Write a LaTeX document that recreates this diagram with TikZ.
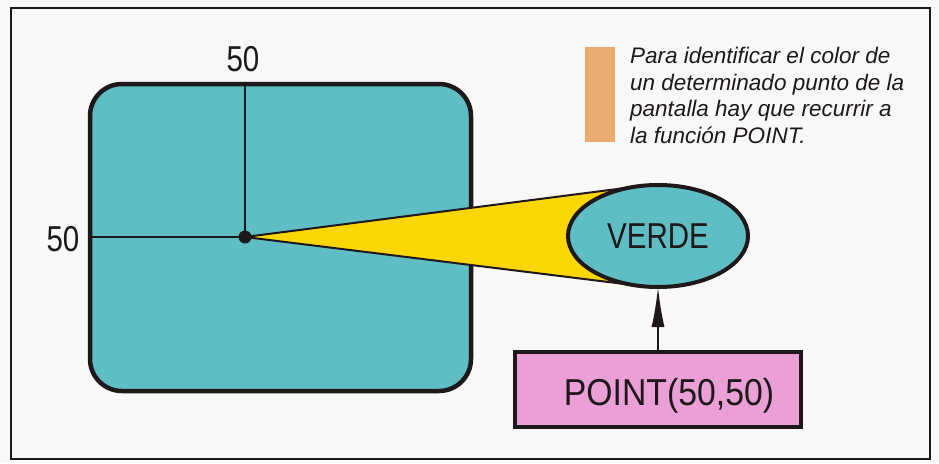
\documentclass[tikz,border=0pt]{standalone}
\usepackage{fontspec}
\usetikzlibrary{shapes.geometric,arrows.meta}
\newfontfamily\labfont[FakeStretch=0.82]{Liberation Sans}
\newfontfamily\ptfont[FakeStretch=0.9]{Liberation Sans}
\newfontfamily\notefont{Liberation Sans}
\definecolor{bg}{RGB}{248,248,246}
\definecolor{screencol}{RGB}{94,190,196}
\definecolor{beamcol}{RGB}{250,215,0}
\definecolor{pinkcol}{RGB}{234,160,214}
\definecolor{barcol}{RGB}{235,170,112}
\definecolor{inkcol}{RGB}{30,24,26}
\begin{document}
\begin{tikzpicture}[x=1pt,y=-1pt,
  thickline/.style={draw=inkcol,line width=4.5pt},
  labtext/.style={anchor=base,inner sep=0,text=inkcol,font=\labfont\fontsize{36}{40}\selectfont},
  notetext/.style={anchor=base west,inner sep=0,text=inkcol,font=\notefont\itshape\fontsize{22.5}{26}\selectfont}]
\useasboundingbox (0,0) rectangle (939,463);
\fill[bg] (0,0) rectangle (939,463);
\draw[inkcol,line width=1.5pt] (11,8) rectangle (930,459);
% screen
\node[thickline,fill=screencol,rounded corners=32pt,minimum width=381pt,minimum height=307pt,inner sep=0,outer sep=0] (screen) at (280.5,237.5) {};
\coordinate (c) at (245,237);
\draw[inkcol,line width=1.3pt] (screen.west |- c) -- (c);
\draw[inkcol,line width=1.3pt] (c |- screen.north) -- (c);
% beam
\coordinate (bt) at (639,186.2);
\coordinate (bb) at (639,285.8);
\fill[beamcol] (c) -- (bt) -- (bb) -- cycle;
\draw[inkcol,line width=2pt] (bt) -- (c) -- (bb);
% ellipse
\node[ellipse,draw=inkcol,line width=4pt,fill=screencol,minimum width=180pt,minimum height=102pt,inner sep=0,outer sep=0,
  font=\labfont\fontsize{36}{40}\selectfont,text=inkcol] (verde) at (658,236) {VERDE};
\node[circle,fill=inkcol,inner sep=0,minimum size=13pt] (dot) at (c) {};
% labels
\node[labtext] (lab1) at (243,71) {50};
\node[labtext] (lab2) at (63,251) {50};
% box
\node[draw=inkcol,line width=4pt,fill=pinkcol,minimum width=286pt,minimum height=75pt,inner sep=0,outer sep=0] (point) at (658,389.5) {};
\node[anchor=base,inner sep=0,text=inkcol,font=\ptfont\fontsize{37.5}{40}\selectfont] (pointtxt) at (669,405) {POINT(50,50)};
\draw[inkcol,line width=2pt,-{Latex[length=40pt,width=13pt]}] (point.north) -- (verde.south);
% note
\fill[barcol] (585,47) rectangle (615,142);
\node[notetext] (t1) at (630,63) {Para identificar el color de};
\node[notetext] (t2) at (630,90) {un determinado punto de la};
\node[notetext] (t3) at (630,116.5) {pantalla hay que recurrir a};
\node[notetext] (t4) at (630,143) {la función POINT.};
\end{tikzpicture}
\end{document}
